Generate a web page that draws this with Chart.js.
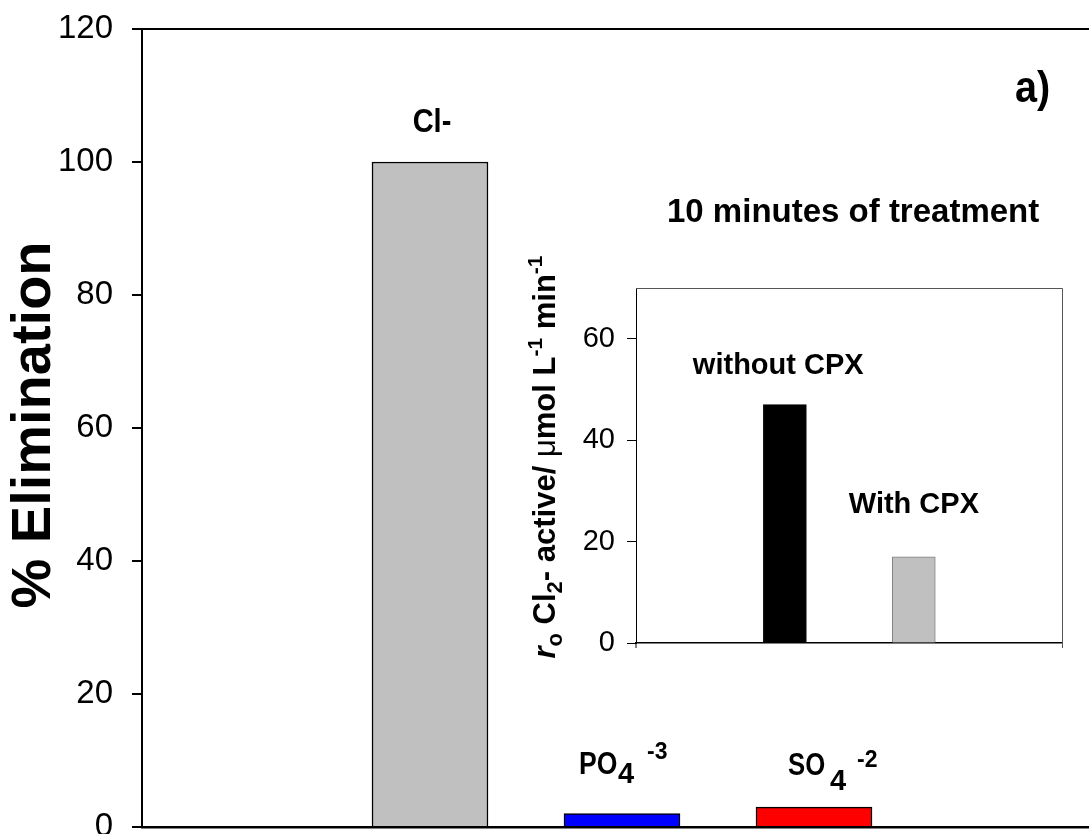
<!DOCTYPE html>
<html><head><meta charset="utf-8">
<script src="https://cdn.jsdelivr.net/npm/chart.js@4.4.1/dist/chart.umd.min.js"></script>
<style>
html,body{margin:0;padding:0;background:#fff;overflow:hidden;width:1089px;height:834px;}
#wrap{position:relative;width:1089px;height:834px;overflow:hidden;background:#fff;}
#main{position:absolute;left:0;top:0;}
#inset{position:absolute;left:500px;top:230px;}
</style></head><body>
<div id="wrap">
<canvas id="main" width="1120" height="834"></canvas>
<canvas id="inset" width="580" height="450"></canvas>
</div>
<script>
// ---- data ----
const ions = ['Cl-', 'PO4', 'SO4'];
const elimination = [100, 2, 3];
const ionColors = ['#C0C0C0', '#0000FF', '#FF0000'];
const mainTicks = [0, 20, 40, 60, 80, 100, 120];
const insetCategories = ['without CPX', 'With CPX'];
const insetRates = [47, 17];
const insetColors = ['#000000', '#C0C0C0'];
const insetBorders = ['#000000', '#808080'];
const insetTicks = [0, 20, 40, 60];

const FONT = "'Liberation Sans', Arial, sans-serif";
Chart.defaults.font.family = FONT;
Chart.defaults.color = '#000';

function runs(ctx, x, y, list) {
  let cx = x;
  list.forEach(r => {
    if (r.at !== undefined) cx = x + r.at;
    ctx.save();
    ctx.font = (r.style || 'bold') + ' ' + r.size + 'px ' + FONT;
    ctx.translate(cx, y + (r.dy || 0));
    ctx.scale(r.sx || 1, 1);
    ctx.fillStyle = '#000';
    ctx.textAlign = 'left';
    ctx.textBaseline = 'alphabetic';
    ctx.fillText(r.t, 0, 0);
    cx += ctx.measureText(r.t).width * (r.sx || 1);
    ctx.restore();
  });
  return cx - x;
}
function measureRuns(ctx, list) {
  let w = 0;
  list.forEach(r => {
    ctx.save();
    ctx.font = (r.style || 'bold') + ' ' + r.size + 'px ' + FONT;
    w += ctx.measureText(r.t).width * (r.sx || 1);
    ctx.restore();
  });
  return w;
}

const mainDecor = {
  id: 'mainDecor',
  afterDraw(chart) {
    const ctx = chart.ctx, a = chart.chartArea;
    const xs = chart.scales.x, ys = chart.scales.y;
    ctx.save();
    ctx.strokeStyle = '#000';
    ctx.lineWidth = 2;
    ctx.beginPath();
    ctx.moveTo(a.left, a.top);
    ctx.lineTo(chart.width, a.top);
    ctx.stroke();
    ctx.restore();
    // Cl- label
    const x0 = xs.getPixelForValue(0), y0 = ys.getPixelForValue(elimination[0]);
    ctx.save();
    ctx.font = 'bold 33px ' + FONT;
    ctx.translate(x0 + 2, y0 - 30);
    ctx.scale(0.88, 1);
    ctx.textAlign = 'center';
    ctx.fillStyle = '#000';
    ctx.fillText('Cl-', 0, 0);
    ctx.restore();
    // PO4
    const x1 = xs.getPixelForValue(1), y1 = ys.getPixelForValue(elimination[1]);
    runs(ctx, x1 - 43, y1 - 40, [
      {t: 'PO', size: 32, sx: 0.83, at: 0},
      {t: '4', size: 29, dy: 9, at: 39},
      {t: '-3', size: 23, dy: -15, at: 68}
    ]);
    const x2 = xs.getPixelForValue(2), y2 = ys.getPixelForValue(elimination[2]);
    runs(ctx, x2 - 26, y2 - 32, [
      {t: 'SO', size: 31, sx: 0.83, at: 0},
      {t: '4', size: 29, dy: 15, at: 42},
      {t: '-2', size: 23, dy: -8, at: 69}
    ]);
    // panel label and title
    runs(ctx, 1015, 102, [{t: 'a)', size: 44, sx: 0.9}]);
    runs(ctx, 667, 222, [{t: '10 minutes of treatment', size: 33, sx: 1.0}]);
    // y title
    ctx.save();
    ctx.translate(50, 425);
    ctx.rotate(-Math.PI / 2);
    ctx.font = 'bold 56px ' + FONT;
    ctx.textAlign = 'center';
    ctx.fillStyle = '#000';
    ctx.fillText('% Elimination', 0, 0);
    ctx.restore();
  }
};

new Chart(document.getElementById('main'), {
  type: 'bar',
  data: {
    labels: ions,
    datasets: [{
      data: ions.map((n, i) => ({x: i, y: elimination[i]})),
      backgroundColor: ionColors,
      borderColor: '#000',
      borderWidth: 1.5,
      barThickness: 116
    }]
  },
  options: {
    responsive: false, animation: false, devicePixelRatio: 1,
    layout: {padding: {top: 29, right: 18, bottom: 0, left: 0}},
    plugins: {legend: {display: false}, tooltip: {enabled: false}},
    scales: {
      x: {
        type: 'linear', min: -1.5, max: 3.5, offset: false,
        grid: {display: true, drawOnChartArea: false, drawTicks: false},
        ticks: {display: false},
        border: {display: true, color: '#000', width: 2.5},
        afterFit(s) { s.height = 7; s.paddingLeft = 0; s.paddingRight = 0; }
      },
      y: {
        min: 0, max: 120,
        afterBuildTicks(s) { s.ticks = mainTicks.map(v => ({value: v})); },
        ticks: {font: {size: 33}, color: '#000', padding: 19},
        grid: {drawOnChartArea: false, drawTicks: true, tickLength: 10, color: '#000', lineWidth: 2},
        border: {display: true, color: '#000', width: 2},
        afterFit(s) { s.width = 142; s.paddingTop = 0; s.paddingBottom = 0; }
      }
    }
  },
  plugins: [mainDecor]
});

const insetDecor = {
  id: 'insetDecor',
  afterDraw(chart) {
    const ctx = chart.ctx, a = chart.chartArea;
    const xs = chart.scales.x, ys = chart.scales.y;
    ctx.save();
    ctx.strokeStyle = '#555';
    ctx.lineWidth = 1;
    ctx.beginPath();
    ctx.moveTo(a.left, a.top + 0.5);
    ctx.lineTo(a.right + 0.5, a.top + 0.5);
    ctx.lineTo(a.right + 0.5, a.bottom + 5);
    ctx.stroke();
    ctx.strokeStyle = '#000';
    ctx.beginPath();
    ctx.moveTo(a.left, a.bottom);
    ctx.lineTo(a.left, a.bottom + 5);
    ctx.stroke();
    ctx.restore();
    const bx0 = xs.getPixelForValue(0), by0 = ys.getPixelForValue(insetRates[0]);
    runs(ctx, bx0 - 92, by0 - 31, [{t: insetCategories[0], size: 29}]);
    const bx1 = xs.getPixelForValue(1), by1 = ys.getPixelForValue(insetRates[1]);
    runs(ctx, bx1 - 65, by1 - 44, [{t: insetCategories[1], size: 29}]);
    // rotated y title
    const title = [
      {t: 'r', size: 31, style: 'italic bold'},
      {t: 'o', size: 22, dy: 7},
      {t: ' Cl', size: 31},
      {t: '2', size: 22, dy: 7},
      {t: '- active/ ', size: 31},
      {t: 'μ', size: 31, style: 'normal'},
      {t: 'mol L', size: 31},
      {t: '-1', size: 21, dy: -13},
      {t: ' min', size: 31},
      {t: '-1', size: 21, dy: -13}
    ];
    const len = measureRuns(ctx, title);
    ctx.save();
    ctx.translate(55, 227 + len / 2);
    ctx.rotate(-Math.PI / 2);
    runs(ctx, 0, 0, title);
    ctx.restore();
  }
};

new Chart(document.getElementById('inset'), {
  type: 'bar',
  data: {
    labels: insetCategories,
    datasets: [{
      data: insetCategories.map((n, i) => ({x: i, y: insetRates[i]})),
      backgroundColor: insetColors,
      borderColor: insetBorders,
      borderWidth: 1,
      barThickness: 43
    }]
  },
  options: {
    responsive: false, animation: false, devicePixelRatio: 1,
    layout: {padding: {top: 58, right: 18, bottom: 37, left: 0}},
    plugins: {legend: {display: false}, tooltip: {enabled: false}},
    scales: {
      x: {
        type: 'linear', min: -1.155, max: 2.15, offset: false,
        grid: {display: true, drawOnChartArea: false, drawTicks: false},
        ticks: {display: false},
        border: {display: true, color: '#000', width: 1.5},
        afterFit(s) { s.height = 0; s.paddingLeft = 0; s.paddingRight = 0; }
      },
      y: {
        min: 0, max: 70,
        afterBuildTicks(s) { s.ticks = insetTicks.map(v => ({value: v})); },
        ticks: {font: {size: 29}, color: '#000', padding: 12},
        grid: {drawOnChartArea: false, drawTicks: true, tickLength: 9, color: '#000', lineWidth: 1},
        border: {display: true, color: '#000', width: 1},
        afterFit(s) { s.width = 136; s.paddingTop = 0; s.paddingBottom = 0; }
      }
    }
  },
  plugins: [insetDecor]
});
</script>
</body></html>
